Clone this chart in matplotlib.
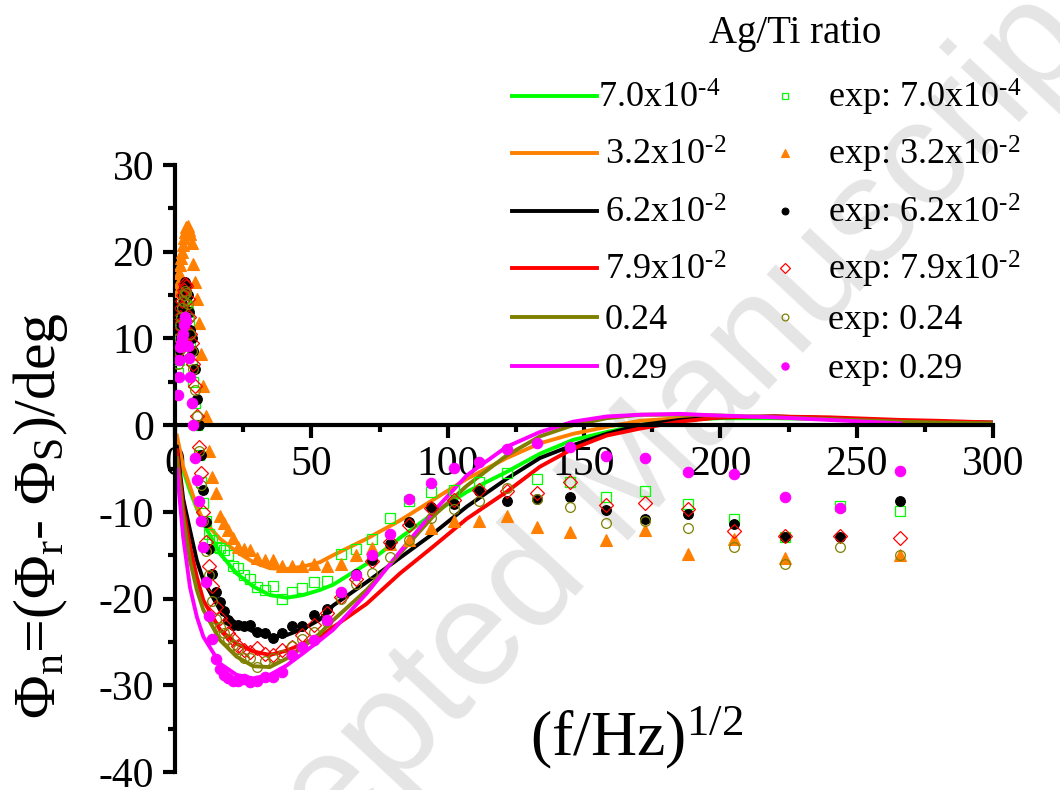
import numpy as np
import matplotlib
matplotlib.use("Agg")
import matplotlib.pyplot as plt
from matplotlib.lines import Line2D
from matplotlib.ticker import MultipleLocator

plt.rcParams['font.family'] = ['Liberation Serif', 'DejaVu Serif']
plt.rcParams['mathtext.fontset'] = 'custom'
plt.rcParams['mathtext.rm'] = 'Liberation Serif'
plt.rcParams['mathtext.it'] = 'Liberation Serif:italic'
plt.rcParams['axes.unicode_minus'] = False

nan = np.nan
labels = ['7.0x10$^{\\text{-4}}$', '3.2x10$^{\\text{-2}}$', '6.2x10$^{\\text{-2}}$',
          '7.9x10$^{\\text{-2}}$', '0.24', '0.29']
colors = ['#00ff00', '#ff8000', '#000000', '#ff0000', '#808000', '#ff00ff']

# model curves
x_fit = [0.7, 3.0, 5.5, 8.0, 10.4, 16.5, 22.6, 28.7, 34.8, 41.0, 47.0, 53.2, 58.0, 70.3, 82.5,
         94.7, 107.0, 121.6, 133.8, 146.0, 158.3, 170.5, 185.0, 200.0, 220.0, 240.0, 266.0, 280.0, 300.0]
fit_green = [-2.1, -5.2, -7.6, -9.6, -11.3, -14.8, -17.1, -18.6, -19.6, -19.9, -19.6, -19.0, -18.4, -16.0, -13.0,
             -10.2, -7.7, -5.4, -3.3, -1.7, -0.8, 0.0, 0.6, 0.8, 0.8, 0.7, 0.5, 0.3, 0.2]
fit_orange = [-1.2, -4.8, -7.1, -9.4, -11.0, -13.1, -14.6, -15.8, -16.5, -16.6, -16.3, -15.8, -15.0, -13.1, -11.0,
              -8.6, -6.2, -3.8, -2.1, -1.0, -0.2, 0.5, 0.8, 0.9, 1.0, 0.8, 0.5, 0.4, 0.2]
fit_black = [-2.5, -8.5, -12.1, -15.6, -17.9, -21.3, -22.9, -23.8, -24.4, -24.2, -23.5, -22.4, -20.8, -18.1, -15.3,
             -12.5, -9.4, -6.2, -3.8, -2.3, -1.0, 0.0, 0.6, 0.9, 1.0, 0.8, 0.5, 0.4, 0.3]
fit_red = [-2.9, -9.5, -14.0, -17.5, -20.2, -23.6, -25.2, -26.1, -26.5, -26.0, -25.2, -24.4, -23.3, -20.6, -17.1,
           -14.0, -10.8, -7.7, -4.8, -2.7, -1.2, -0.4, 0.4, 0.9, 1.0, 0.9, 0.6, 0.5, 0.3]
fit_olive = [-3.8, -10.5, -15.6, -19.0, -21.3, -24.8, -26.7, -27.8, -27.9, -26.9, -25.6, -24.0, -22.5, -19.0, -14.8,
             -10.5, -7.0, -3.5, -1.3, 0.0, 0.8, 1.2, 1.2, 1.1, 0.9, 0.7, 0.4, 0.3, 0.2]
fit_magenta = [-5.1, -12.9, -18.7, -22.1, -24.4, -27.5, -28.8, -29.2, -28.8, -27.7, -26.3, -24.8, -23.6, -19.4, -14.6,
               -10.0, -5.8, -2.5, -0.8, 0.4, 1.0, 1.2, 1.3, 1.1, 0.9, 0.6, 0.2, nan, nan]

# experimental points
x_exp = [1.0, 1.3, 1.6, 1.9, 2.2, 2.5, 2.9, 3.3, 3.7, 4.1, 4.6, 5.1, 5.6,
         6.1, 6.7, 7.3, 8.0, 8.7, 9.5, 10.4, 11.4, 12.5, 13.7, 15.0, 16.4, 17.9, 19.5, 21.3, 23.2,
         25.3, 27.6, 30.1, 32.9, 35.9, 39.2, 42.8, 46.7, 51.0, 55.6, 60.7, 66.2, 72.2, 78.8, 86.0,
         93.8, 102.3, 111.6, 121.8, 132.9, 145.0, 158.2, 172.5, 188.1, 205.1, 223.7, 243.9, 266.0]
exp_green = [6.0, 7.5, 9.0, 10.5, 11.5, 12.5, 13.3, 14.0, 14.5, 14.2, 13.0, 11.5, 9.5,
             7.5, 5.0, 2.5, 0.0, -3.5, -6.5, -9.0, -11.0, -12.5, -13.2, -14.0, -14.2, -14.4, -15.0, -16.3, -16.5,
             -17.3, -17.8, -18.7, -19.0, -18.5, -20.0, -19.2, -18.8, -18.1, -18.0, -14.9, -14.3, -13.1, -10.7, -8.7,
             -7.7, -7.5, -6.5, -5.5, -6.2, -6.5, -8.3, -7.6, -9.1, -10.8, -12.9, -9.3, -9.9]
exp_orange = [15.5, 16.5, 17.5, 18.5, 19.3, 20.0, 20.8, 21.6, 22.3, 22.9, 23.0, 22.5, 22.0,
              21.0, 18.6, 16.5, 14.5, 11.8, 8.2, 4.5, 1.0, -3.0, -6.0, -7.8, -10.5, -11.3, -12.1, -13.0, -14.0,
              -14.3, -14.4, -15.3, -15.5, -15.6, -16.3, -16.3, -16.3, -16.0, -16.2, -16.0, -15.0, -14.2, -13.7, -13.2,
              -11.9, -11.0, -11.0, -10.5, -11.7, -12.3, -13.3, -12.1, -14.9, -13.1, -15.3, nan, -15.0]
exp_black = [8.0, 9.5, 11.0, 12.0, 13.0, 14.0, 15.0, 15.8, 16.5, 16.2, 15.0, 13.0, 11.0,
             10.0, 8.5, 6.5, 3.0, 0.0, -3.5, -7.5, -11.2, -14.3, -17.2, -19.2, -20.4, -21.4, -22.5, -23.0, -23.0,
             -23.2, -23.0, -23.9, -24.0, -24.5, -24.0, -23.2, -23.2, -21.9, -21.2, -19.3, -17.2, -15.5, -13.7, -11.2,
             -9.4, -9.1, -7.6, -8.8, -8.5, -8.3, -9.8, -10.8, -10.3, -11.4, -12.9, -12.9, -8.7]
exp_red = [8.5, 10.0, 11.5, 12.5, 13.5, 14.3, 15.0, 15.6, 16.3, 16.0, 14.5, 12.5, 10.5,
           9.5, 7.0, 4.5, 1.0, -2.5, -5.5, -10.0, -13.5, -16.3, -18.5, -21.0, -22.2, -23.0, -24.0, -24.7, -25.5,
           -25.9, -26.2, -25.7, -26.4, -26.5, -25.9, -25.6, -24.2, -23.0, -21.7, -19.8, -17.8, -15.7, -13.5, -11.5,
           -9.6, -8.6, -7.5, -7.6, -7.8, -6.5, -9.2, -9.0, -9.7, -12.2, -12.8, -12.8, -13.0]
exp_olive = [7.0, 8.5, 10.0, 11.5, 12.5, 13.5, 14.3, 15.0, 15.5, 15.2, 14.0, 12.3, 10.5,
             8.5, 6.5, 4.0, 1.0, -3.0, -6.9, -11.0, -14.5, -17.3, -20.3, -22.4, -23.3, -24.0, -24.7, -25.3, -25.8,
             -26.8, -26.8, -27.9, -27.2, -26.9, -26.5, -25.5, -24.7, -23.8, -22.7, -20.1, -18.3, -17.1, -15.2, -13.2,
             -10.7, -9.7, -8.7, -7.2, -8.5, -9.4, -11.3, -11.0, -11.9, -14.1, -16.0, -14.0, -15.0]
exp_magenta = [3.5, 5.5, 7.5, 9.0, 9.5, 10.0, 10.5, 11.5, 12.5, 12.0, 9.1, 7.7, 5.5,
               2.5, 0.0, -3.8, -6.3, -8.7, -11.0, -14.0, -18.1, -22.0, -24.7, -27.0, -28.1, -28.8, -29.2, -29.5, -29.5,
               -29.3, -29.6, -29.5, -29.1, -29.1, -28.5, -26.5, -25.6, -24.8, -22.5, -19.2, -17.3, -15.0, -12.6, -8.5,
               -6.7, -4.9, -4.2, -2.7, -2.1, -2.5, -3.6, -3.8, -5.4, -5.6, -8.3, -9.5, -5.3]

fits = [fit_green, fit_orange, fit_black, fit_red, fit_olive, fit_magenta]
exps = [exp_green, exp_orange, exp_black, exp_red, exp_olive, exp_magenta]
markers = [('s', False, 7), ('^', True, 8), ('o', True, 7), ('D', False, 7), ('o', False, 7), ('o', True, 7.5)]

W, H = 1060, 790
fig = plt.figure(figsize=(W / 100, H / 100), dpi=100)
fig.text(0.58, 0.37, 'Accepted Manuscript', rotation=47, fontsize=108, color='#e5e5e5',
         ha='center', va='center', family='Liberation Sans', zorder=-5)

ax = fig.add_axes([175 / W, 1 - 772 / H, (993 - 175) / W, (772 - 165) / H])
ax.patch.set_alpha(0)

for fy, c in zip(fits, colors):
    ax.plot(x_fit, fy, color=c, lw=2.8, zorder=2, solid_joinstyle='round')

def mstyle(c, m, filled, ms):
    if filled:
        return dict(ls='none', marker=m, ms=ms, mfc=c, mec=c, mew=0.8)
    return dict(ls='none', marker=m, ms=ms, mfc='none', mec=c, mew=0.9)

for ey, c, (m, filled, ms) in zip(exps, colors, markers):
    ax.plot(x_exp, ey, zorder=3, **mstyle(c, m, filled, ms))

ax.set_xlim(0, 300)
ax.set_ylim(-40, 30)
ax.spines['top'].set_visible(False)
ax.spines['right'].set_visible(False)
ax.spines['bottom'].set_position(('data', 0))
for s in ('left', 'bottom'):
    ax.spines[s].set_linewidth(3)
ax.xaxis.set_major_locator(MultipleLocator(50))
ax.xaxis.set_minor_locator(MultipleLocator(25))
ax.yaxis.set_major_locator(MultipleLocator(10))
ax.yaxis.set_minor_locator(MultipleLocator(5))
ax.tick_params(which='major', direction='out', length=9, width=3, labelsize=30, pad=6)
ax.tick_params(which='minor', direction='out', length=5, width=3)

ax.set_ylabel('Φ$_\\mathregular{n}$=(Φ$_\\mathregular{r}$- Φ$_\\mathregular{S}$)/deg', fontsize=43)
ax.yaxis.set_label_coords(-0.128, 0.423)

fig.text(637 / W, 1 - 738 / H, '(f/Hz)$^\\mathregular{1/2}$', fontsize=46, ha='center', va='center')

# legend (drawn by hand to match the original layout)
fig.text(795 / W, 1 - 33 / H, 'Ag/Ti ratio', fontsize=28, ha='center', va='center')
row_px = [96, 153, 211, 268, 317, 366]
for i, (lab, c, (m, filled, ms)) in enumerate(zip(labels, colors, markers)):
    yf = 1 - row_px[i] / H
    ybase = 1 - (row_px[i] + 12) / H
    fig.add_artist(Line2D([512 / W, 597 / W], [yf, yf], color=c, lw=2.8, transform=fig.transFigure))
    fig.text((598 if i == 0 else 605) / W, ybase, lab, fontsize=26, ha='left', va='baseline')
    fig.add_artist(Line2D([785 / W], [yf], transform=fig.transFigure, **mstyle(c, m, filled, ms * 0.7)))
    fig.text(828 / W, ybase, 'exp: ' + lab, fontsize=26, ha='left', va='baseline')

fig.savefig('out.png', dpi=100)
